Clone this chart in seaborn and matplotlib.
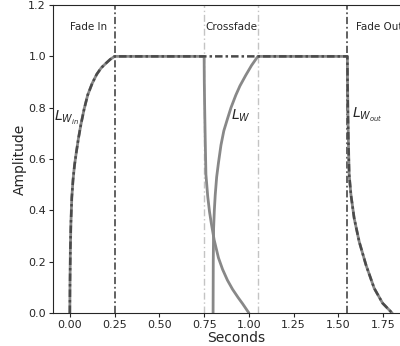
import numpy as np
import pandas as pd
import matplotlib
matplotlib.use("Agg")
import matplotlib.pyplot as plt
import seaborn as sns

# -----------------------------
# Data
# -----------------------------
# fade in (0 -> 0.25 s)
fadein_t = [0.0, 0.001, 0.003, 0.006, 0.011, 0.018, 0.026, 0.036, 0.048, 0.062,
            0.08, 0.1, 0.125, 0.15, 0.175, 0.2, 0.225, 0.25]
fadein_y = [0.0, 0.12, 0.25, 0.35, 0.45, 0.52, 0.575, 0.625, 0.68, 0.735,
            0.795, 0.85, 0.895, 0.93, 0.955, 0.972, 0.988, 1.0]

# crossfade, outgoing part (0.75 -> 1.0 s)
xout_t = [0.75, 0.751, 0.753, 0.756, 0.76, 0.77, 0.78, 0.79, 0.806, 0.83,
          0.853, 0.88, 0.909, 0.94, 0.965, 1.0]
xout_y = [1.0, 0.9, 0.8, 0.68, 0.54, 0.455, 0.395, 0.35, 0.285, 0.215,
          0.17, 0.128, 0.092, 0.06, 0.036, 0.0]

# crossfade, incoming part (0.80 -> 1.05 s)
xin_t = [0.8, 0.8005, 0.801, 0.803, 0.807, 0.812, 0.82, 0.83, 0.844, 0.86,
         0.881, 0.9, 0.927, 0.95, 0.983, 1.015, 1.05]
xin_y = [0.0, 0.1, 0.2, 0.33, 0.40, 0.46, 0.53, 0.585, 0.654, 0.71,
         0.758, 0.80, 0.849, 0.885, 0.927, 0.965, 1.0]

# fade out (1.55 -> 1.80 s)
fadeout_t = [1.55, 1.551, 1.553, 1.556, 1.56, 1.57, 1.588, 1.616, 1.654, 1.70, 1.747, 1.8]
fadeout_y = [1.0, 0.9, 0.78, 0.66, 0.54, 0.46, 0.369, 0.278, 0.187, 0.096, 0.038, 0.0]

# section boundaries
bounds_dark = [0.25, 1.55]
bounds_light = [0.75, 1.05]

yticks = [0.0, 0.2, 0.4, 0.6, 0.8, 1.0, 1.2]
xticks = [0.0, 0.25, 0.5, 0.75, 1.0, 1.25, 1.5, 1.75]

# -----------------------------
# Build line tables
# -----------------------------
seg1 = pd.DataFrame({"t": fadein_t + xout_t, "y": fadein_y + xout_y})
seg2 = pd.DataFrame({"t": xin_t + fadeout_t, "y": xin_y + fadeout_y})
whole = pd.DataFrame({"t": fadein_t + fadeout_t, "y": fadein_y + fadeout_y})

# -----------------------------
# Plot
# -----------------------------
sns.set_style("ticks")
plt.rcParams["font.family"] = ["DejaVu Sans"]

fig = plt.figure(figsize=(4.0, 3.46), dpi=100)
ax = fig.add_axes([0.1325, 0.0954, 0.915, 0.89])

for b in bounds_dark:
    ax.axvline(b, color="#555555", ls=(0, (4, 1.5, 1, 1.5)), lw=1.3, zorder=1)
for b in bounds_light:
    ax.axvline(b, color="#c4c4c4", ls=(0, (5, 2, 1, 2)), lw=1.0, zorder=1)

sns.lineplot(data=seg1, x="t", y="y", estimator=None, sort=False,
             color="#888888", lw=2, ax=ax, zorder=2)
sns.lineplot(data=seg2, x="t", y="y", estimator=None, sort=False,
             color="#888888", lw=2, ax=ax, zorder=2)
sns.lineplot(data=whole, x="t", y="y", estimator=None, sort=False,
             color="#4a4a4a", lw=1.8, ls=(0, (3, 1.2, 1, 1.2)), ax=ax, zorder=3)

ax.set_xlim(-0.094, 1.95)
ax.set_ylim(0.0, 1.2)
ax.set_xticks(xticks)
ax.set_yticks(yticks)
ax.set_xticklabels([f"{v:.2f}" for v in xticks])
ax.set_yticklabels([f"{v:.1f}" for v in yticks])
ax.tick_params(labelsize=8, length=3, width=0.8, pad=2)
ax.set_xlabel("Seconds", fontsize=10, labelpad=1)
ax.set_ylabel("Amplitude", fontsize=10, labelpad=1)

# section names
ax.text(0.0, 1.113, "Fade In", fontsize=7.5, ha="left", va="center")
ax.text(0.755, 1.113, "Crossfade", fontsize=7.5, ha="left", va="center")
ax.text(1.60, 1.113, "Fade Out", fontsize=7.5, ha="left", va="center")

# curve labels
ax.text(-0.09, 0.76, r"$L_{W_{in}}$", fontsize=10, ha="left", va="center")
ax.text(0.90, 0.77, r"$L_W$", fontsize=10, ha="left", va="center")
ax.text(1.575, 0.77, r"$L_{W_{out}}$", fontsize=10, ha="left", va="center")

plt.savefig("out.png", dpi=100)
